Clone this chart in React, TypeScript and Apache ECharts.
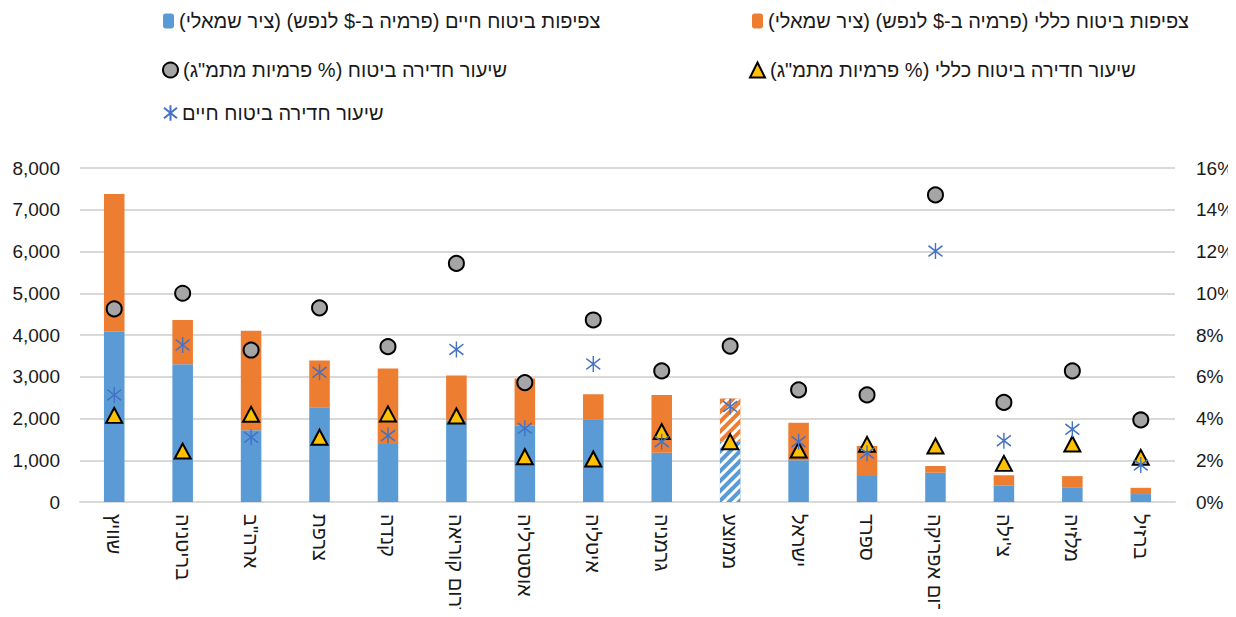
import React, { useEffect, useRef } from "react";
import * as echarts from "echarts";

// Countries (right-to-left Hebrew names)
const countries = [
  "שוויץ",
  "בריטניה",
  'ארה"ב',
  "צרפת",
  "קנדה",
  "דרום קוריאה",
  "אוסטרליה",
  "איטליה",
  "גרמניה",
  "ממוצע",
  "ישראל",
  "ספרד",
  "דרום אפריקה",
  "צ'ילה",
  "מלזיה",
  "ברזיל",
];

// Insurance density, premium in $ per capita (left axis)
const lifeDensity = [4080, 3300, 1720, 2270, 1390, 1950, 1840, 1980, 1180, 1450, 1000, 620, 700, 390, 340, 190];
const generalDensity = [3300, 1060, 2380, 1120, 1810, 1080, 1120, 600, 1380, 1030, 900, 720, 160, 250, 280, 150];

// Insurance penetration, % of GDP (right axis)
const totalPenetration = [9.25, 10.0, 7.28, 9.3, 7.44, 11.43, 5.72, 8.72, 6.28, 7.47, 5.37, 5.13, 14.71, 4.77, 6.28, 3.93];
const generalPenetration = [4.15, 2.44, 4.2, 3.1, 4.22, 4.12, 2.17, 2.06, 3.37, 2.89, 2.49, 2.76, 2.68, 1.85, 2.78, 2.14];
const lifePenetration = [5.13, 7.52, 3.1, 6.21, 3.18, 7.31, 3.53, 6.61, 2.89, 4.57, 2.89, 2.33, 12.02, 2.94, 3.48, 1.77];

const leftTicks = { min: 0, max: 8000, interval: 1000 };
const rightTicks = { min: 0, max: 16, interval: 2 };

// the average column is drawn hatched
const averageIndex = 9;

const NAME_GENERAL_DENSITY = "צפיפות ביטוח כללי (פרמיה ב-$ לנפש) (ציר שמאלי)";
const NAME_LIFE_DENSITY = "צפיפות ביטוח חיים (פרמיה ב-$ לנפש) (ציר שמאלי)";
const NAME_GENERAL_PEN = 'שיעור חדירה ביטוח כללי (% פרמיות מתמ"ג)';
const NAME_TOTAL_PEN = 'שיעור חדירה ביטוח (% פרמיות מתמ"ג)';
const NAME_LIFE_PEN = "שיעור חדירה ביטוח חיים";

const FONT = "Liberation Sans";
const TEXT_COLOR = "#1a1a1a";
const RLM = "\u200F";
const rtl = (s: string) => RLM + s + RLM;

const ASTERISK = "path://M5,0 L5,12 M0,2 L10,10 M0,10 L10,2";

const hatch = {
  symbol: "rect",
  symbolSize: 1,
  color: "#ffffff",
  dashArrayX: [1, 0],
  dashArrayY: [3, 3.5],
  rotation: -Math.PI / 4,
};

export default function App() {
  const ref = useRef<HTMLDivElement>(null);

  useEffect(() => {
    if (!ref.current) return;
    const chart = echarts.init(ref.current, null, { renderer: "svg" });

    const legendText = { fontFamily: FONT, fontSize: 20, color: TEXT_COLOR };
    const legendBase = {
      orient: "horizontal" as const,
      textStyle: legendText,
      formatter: (n: string) => rtl(n),
      selectedMode: false,
      padding: 0,
    };

    chart.setOption({
      animation: false,
      textStyle: { fontFamily: FONT },
      legend: [
        { ...legendBase, data: [NAME_GENERAL_DENSITY], left: 744, top: 3, itemWidth: 11, itemHeight: 15 },
        { ...legendBase, data: [NAME_LIFE_DENSITY], left: 155, top: 3, itemWidth: 11, itemHeight: 15 },
        { ...legendBase, data: [NAME_GENERAL_PEN], left: 741, top: 52, itemWidth: 15, itemHeight: 15 },
        { ...legendBase, data: [NAME_TOTAL_PEN], left: 154, top: 52, itemWidth: 15, itemHeight: 15 },
        { ...legendBase, data: [NAME_LIFE_PEN], left: 155, top: 95, itemWidth: 13, itemHeight: 16 },
      ],
      grid: {
        left: 72,
        right: 61,
        top: 160,
        bottom: 115,
        containLabel: false,
        outerBoundsMode: "none",
      },
      xAxis: {
        type: "category",
        data: countries,
        axisLine: { show: true, lineStyle: { color: "#D9D9D9", width: 2 } },
        axisTick: { show: false },
        axisLabel: {
          interval: 0,
          rotate: -90,
          margin: 12,
          fontSize: 20,
          fontFamily: FONT,
          color: TEXT_COLOR,
          formatter: (v: string) => rtl(v),
        },
      },
      yAxis: [
        {
          type: "value",
          ...leftTicks,
          axisLine: { show: false },
          axisTick: { show: false },
          splitLine: { show: true, lineStyle: { color: "#D9D9D9", width: 2 } },
          axisLabel: {
            margin: 20,
            fontSize: 19,
            fontFamily: FONT,
            color: TEXT_COLOR,
            formatter: (v: number) => v.toLocaleString("en-US"),
          },
        },
        {
          type: "value",
          ...rightTicks,
          position: "right",
          axisLine: { show: false },
          axisTick: { show: false },
          splitLine: { show: false },
          axisLabel: {
            margin: 21,
            fontSize: 19,
            fontFamily: FONT,
            color: TEXT_COLOR,
            formatter: "{value}%",
          },
        },
      ],
      series: [
        {
          name: NAME_LIFE_DENSITY,
          type: "bar",
          stack: "density",
          barWidth: "30%",
          itemStyle: { color: "#5B9BD5" },
          data: lifeDensity.map((v, i) =>
            i === averageIndex ? { value: v, itemStyle: { decal: hatch } } : v
          ),
        },
        {
          name: NAME_GENERAL_DENSITY,
          type: "bar",
          stack: "density",
          barWidth: "30%",
          itemStyle: { color: "#ED7D31" },
          data: generalDensity.map((v, i) =>
            i === averageIndex ? { value: v, itemStyle: { decal: hatch } } : v
          ),
        },
        {
          name: NAME_TOTAL_PEN,
          type: "scatter",
          yAxisIndex: 1,
          symbol: "circle",
          symbolSize: 15,
          itemStyle: { color: "#A5A5A5", borderColor: "#000000", borderWidth: 2, opacity: 1 },
          data: totalPenetration,
          z: 3,
        },
        {
          name: NAME_GENERAL_PEN,
          type: "scatter",
          yAxisIndex: 1,
          symbol: "triangle",
          symbolSize: [16, 15],
          itemStyle: { color: "#FFC000", borderColor: "#000000", borderWidth: 2, opacity: 1 },
          data: generalPenetration,
          z: 4,
        },
        {
          name: NAME_LIFE_PEN,
          type: "scatter",
          yAxisIndex: 1,
          symbol: ASTERISK,
          symbolSize: [14, 16],
          itemStyle: { color: "rgba(0,0,0,0)", borderColor: "#4472C4", borderWidth: 1.5, opacity: 1 },
          data: lifePenetration,
          z: 5,
        },
      ],
    });

    return () => chart.dispose();
  }, []);

  return <div ref={ref} style={{ width: 1228, height: 609, marginBottom: -8 }} />;
}
